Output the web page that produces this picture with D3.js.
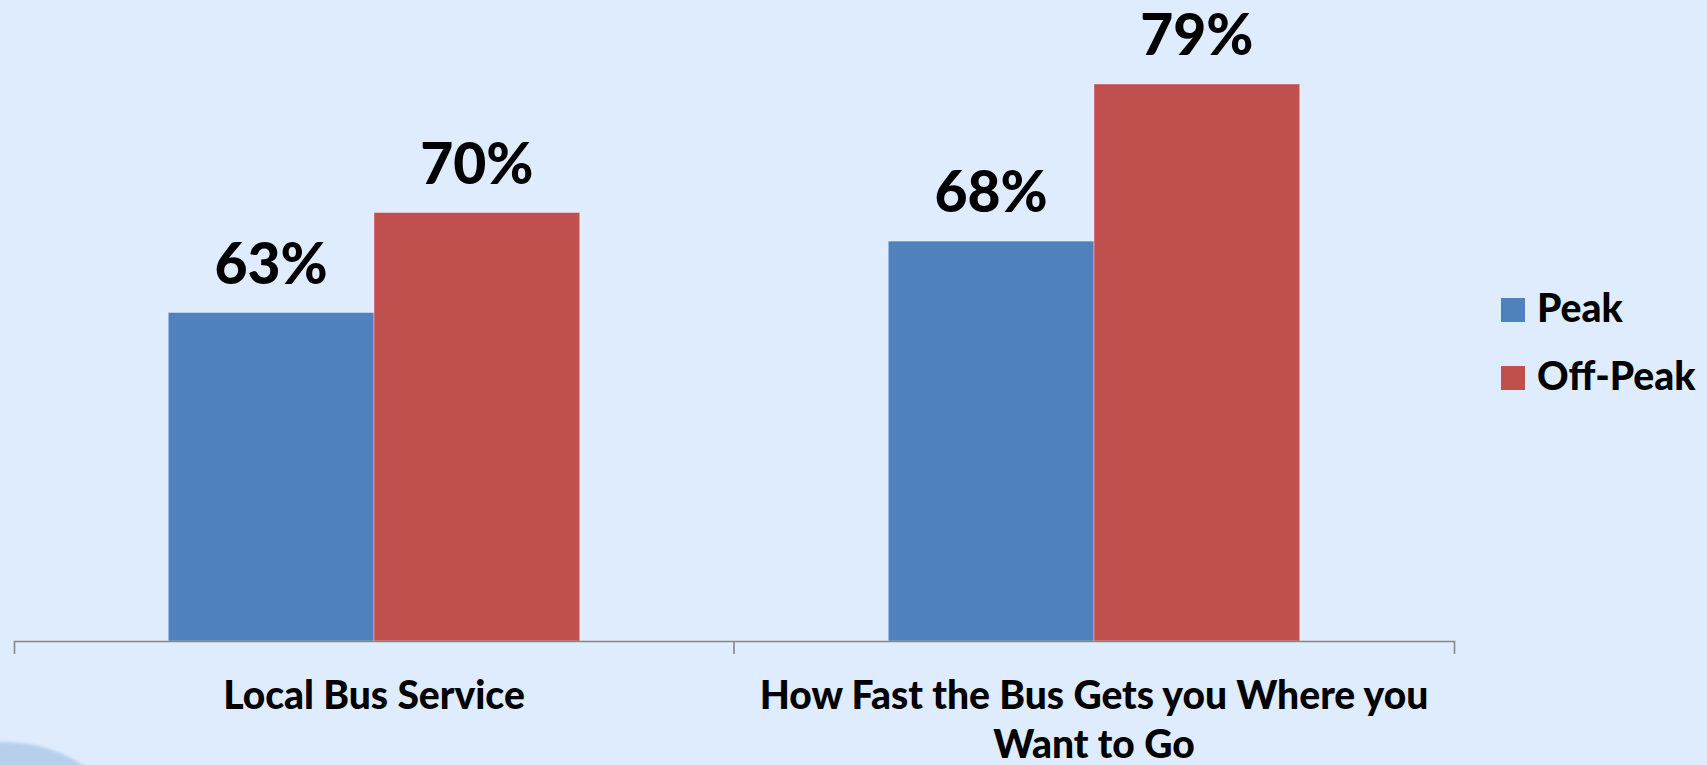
<!DOCTYPE html>
<html>
<head>
<meta charset="utf-8">
<script src="https://cdn.jsdelivr.net/npm/d3@7"></script>
<style>
  html, body { margin: 0; padding: 0; background: #DFECFD; overflow: hidden; }
  svg { display: block; }
  text { font-family: Lato, "Open Sans", sans-serif; font-weight: 900; fill: #000; }
</style>
</head>
<body>
<svg id="chart" width="1707" height="765"></svg>
<script>
// Survey categories (each entry lists its wrapped label lines)
const categories = ["Local Bus Service", "How Fast the Bus Gets you Where you Want to Go"];
const categoryLines = [["Local Bus Service"], ["How Fast the Bus Gets you Where you", "Want to Go"]];
const seriesNames = ["Peak", "Off-Peak"];
const peakValues = [63, 68];
const offPeakValues = [70, 79];
const seriesColors = ["#4F81BD", "#C0504D"];
const yDomain = [40, 80];

const svg = d3.select("#chart");

// Soft decorative circle in the lower-left corner
const defs = svg.append("defs");
const blur = defs.append("filter").attr("id", "soft").attr("x", "-20%").attr("y", "-20%").attr("width", "140%").attr("height", "140%");
blur.append("feGaussianBlur").attr("stdDeviation", 1.5);
svg.append("circle")
  .attr("cx", 5).attr("cy", 886).attr("r", 144)
  .attr("fill", "#B6D0EC")
  .attr("filter", "url(#soft)");

const plotLeft = 14, plotRight = 1454, axisY = 641;

const x = d3.scaleBand().domain(categories).range([plotLeft, plotRight]).padding(0);
const bw = x.bandwidth();
const gap = bw * 0.75 / 3.5;   // gap width of 150% split on both sides
const x1 = d3.scaleBand().domain(seriesNames).range([gap, bw - gap]).padding(0);

const y = d3.scaleLinear().domain(yDomain).range([axisY, axisY - (axisY - 84) * (yDomain[1] - yDomain[0]) / (79 - yDomain[0])]);

const rows = categories.map((c, i) => ({
  category: c,
  values: [
    { series: seriesNames[0], value: peakValues[i] },
    { series: seriesNames[1], value: offPeakValues[i] }
  ]
}));
const color = d3.scaleOrdinal().domain(seriesNames).range(seriesColors);

const groups = svg.append("g").selectAll("g")
  .data(rows).join("g")
  .attr("transform", d => `translate(${x(d.category)},0)`);

groups.selectAll("rect")
  .data(d => d.values).join("rect")
  .attr("x", d => x1(d.series))
  .attr("width", x1.bandwidth())
  .attr("y", d => y(d.value))
  .attr("height", d => axisY - y(d.value))
  .attr("fill", d => color(d.series))
  .attr("stroke", "rgba(255,255,255,0.35)")
  .attr("stroke-width", 1);

groups.selectAll("text.val")
  .data(d => d.values).join("text")
  .attr("class", "val")
  .attr("x", d => x1(d.series) + x1.bandwidth() / 2)
  .attr("y", d => y(d.value) - 29)
  .attr("text-anchor", "middle")
  .style("font-size", "57px")
  .text(d => d.value + "%");

// Category axis with tick marks between categories
const axis = d3.axisBottom(x).tickSizeInner(0).tickSizeOuter(13).tickFormat("");
const axisG = svg.append("g").attr("transform", `translate(0,${axisY})`).call(axis);
axisG.select(".domain").attr("stroke", "#878787").attr("stroke-width", 1.6);
axisG.selectAll(".tick").remove();
axisG.selectAll("line.sep")
  .data(categories.slice(1)).join("line")
  .attr("class", "sep")
  .attr("x1", d => x(d)).attr("x2", d => x(d))
  .attr("y1", 0).attr("y2", 13)
  .attr("stroke", "#878787").attr("stroke-width", 1.6);

const labels = svg.append("g").selectAll("text")
  .data(categories).join("text")
  .attr("x", d => x(d) + bw / 2)
  .attr("y", 709)
  .attr("text-anchor", "middle")
  .style("font-size", "39px");
labels.selectAll("tspan")
  .data((d, i) => categoryLines[i]).join("tspan")
  .attr("x", function () { return d3.select(this.parentNode).attr("x"); })
  .attr("dy", (d, i) => i === 0 ? 0 : 49)
  .text(d => d);

// Legend
const legend = svg.append("g").selectAll("g")
  .data(seriesNames).join("g")
  .attr("transform", (d, i) => `translate(1501,${298 + i * 68})`);
legend.append("rect")
  .attr("width", 24).attr("height", 24)
  .attr("fill", d => color(d));
legend.append("text")
  .attr("x", 36).attr("y", 24)
  .style("font-size", "39px")
  .text(d => d);
</script>
</body>
</html>
